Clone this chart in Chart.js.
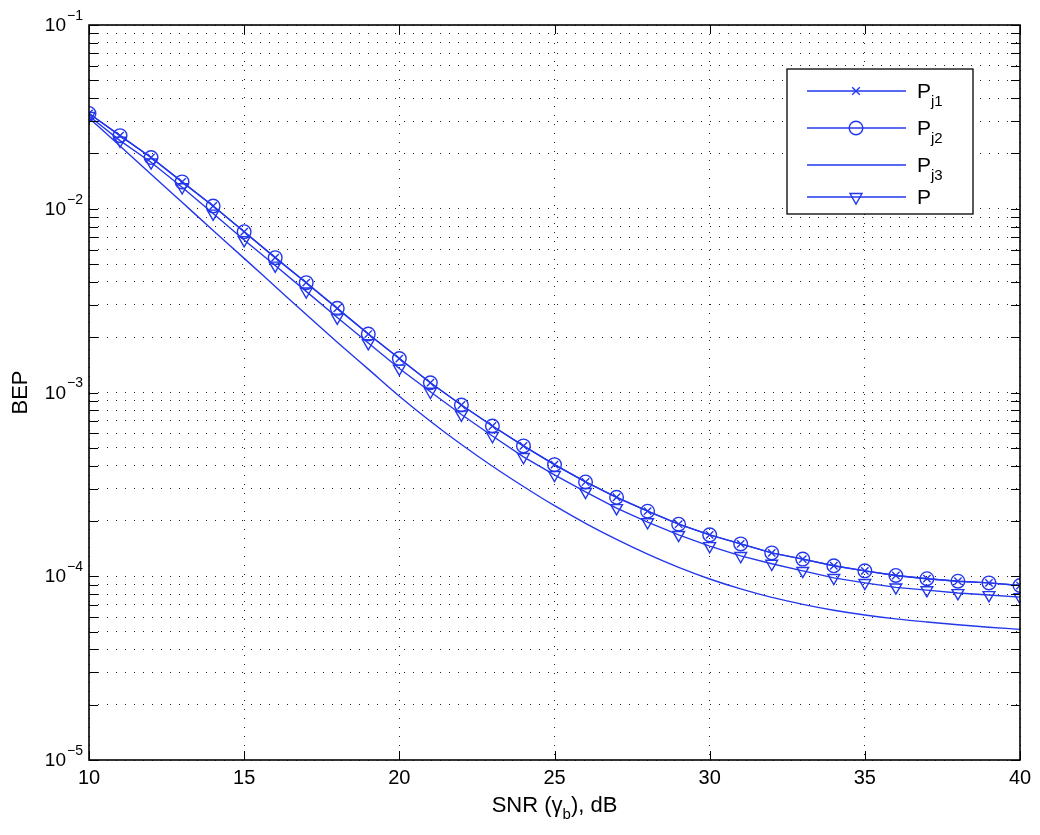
<!DOCTYPE html>
<html>
<head>
<meta charset="utf-8">
<script src="https://cdn.jsdelivr.net/npm/chart.js@4.4.1/dist/chart.umd.min.js"></script>
<style>
  html, body { margin: 0; padding: 0; background: #fff; }
  #wrap { width: 1040px; height: 835px; }
</style>
</head>
<body>
<div id="wrap"><canvas id="bep-chart" width="1040" height="835"></canvas></div>
<script>
// SNR in dB
const snr = [10, 11, 12, 13, 14, 15, 16, 17, 18, 19, 20, 21, 22, 23, 24, 25,
             26, 27, 28, 29, 30, 31, 32, 33, 34, 35, 36, 37, 38, 39, 40];

// values
const pj1 = [0.0330, 0.0250, 0.0190, 0.0140, 0.01035, 0.00750, 0.00542, 0.00396, 0.00287, 0.00208,
             0.00153, 0.00113, 0.000855, 0.000657, 0.000512, 0.000405, 0.000326, 0.000269, 0.000226, 0.000192,
             0.000168, 0.000150, 0.000134, 0.000124, 0.000114, 0.000107, 0.000101, 0.000097, 0.000094, 0.000092, 0.000089];
const pj2 = [0.0330, 0.0250, 0.0190, 0.0140, 0.01035, 0.00750, 0.00542, 0.00396, 0.00287, 0.00208,
             0.00153, 0.00113, 0.000855, 0.000657, 0.000512, 0.000405, 0.000326, 0.000269, 0.000226, 0.000192,
             0.000168, 0.000150, 0.000134, 0.000124, 0.000114, 0.000107, 0.000101, 0.000097, 0.000094, 0.000092, 0.000089];
const pj3 = [0.0312, 0.02193, 0.01542, 0.01084, 0.00762, 0.00537, 0.003776, 0.002655, 0.001879, 0.00134,
             0.000955, 0.000698, 0.000521, 0.000397, 0.000308, 0.000242, 0.000194, 0.0001585, 0.0001318, 0.0001117,
             0.0000966, 0.0000853, 0.0000767, 0.0000703, 0.0000653, 0.0000615, 0.0000586, 0.0000564, 0.0000545, 0.0000528, 0.0000514];
const pTotal = [0.0320, 0.0235, 0.0179, 0.0131, 0.00942, 0.00676, 0.00491, 0.00355, 0.00256, 0.00186,
                0.00135, 0.00101, 0.000759, 0.000580, 0.000446, 0.000356, 0.000288, 0.000235, 0.000197, 0.000168,
                0.000146, 0.000129, 0.000117, 0.000107, 0.000098, 0.000092, 0.000087, 0.000084, 0.000081, 0.000079, 0.000077];

// tick labels
const xTicks = [10, 15, 20, 25, 30, 35, 40];
const yDecades = [-5, -4, -3, -2, -1];

// legend names: main letter + subscript
const legendNames = [['P', 'j1'], ['P', 'j2'], ['P', 'j3'], ['P', '']];

const BLUE = 'rgb(35,55,235)';
const FONT = '"Liberation Sans", Arial, Helvetica, sans-serif';
const LW = 1.4;

function pts(ys) {
    return snr.map((x, i) => ({ x: x, y: ys[i] }));
}

// marker drawing for the legend rows
function drawMarker(ctx, style, x, y) {
    ctx.save();
    ctx.strokeStyle = BLUE;
    ctx.lineWidth = LW;
    ctx.beginPath();
    if (style === 'crossRot') {
        ctx.moveTo(x - 3.8, y - 3.8); ctx.lineTo(x + 3.8, y + 3.8);
        ctx.moveTo(x + 3.8, y - 3.8); ctx.lineTo(x - 3.8, y + 3.8);
    } else if (style === 'circle') {
        ctx.arc(x, y, 6.8, 0, Math.PI * 2);
    } else if (style === 'triangle') {
        ctx.moveTo(x - 6, y - 3.5); ctx.lineTo(x + 6, y - 3.5); ctx.lineTo(x, y + 7); ctx.closePath();
    }
    ctx.stroke();
    ctx.restore();
}

const decorPlugin = {
    id: 'decor',
    afterDraw(chart) {
        const ctx = chart.ctx;
        const a = chart.chartArea;
        const xs = chart.scales.x;
        const ys = chart.scales.y;
        ctx.save();

        // inner tick marks on all four sides
        ctx.strokeStyle = '#000';
        ctx.lineWidth = 1;
        ctx.beginPath();
        ys.ticks.forEach(t => {
            const py = Math.round(ys.getPixelForValue(t.value)) + 0.5;
            ctx.moveTo(a.left, py); ctx.lineTo(a.left + 9, py);
            ctx.moveTo(a.right, py); ctx.lineTo(a.right - 9, py);
        });
        xTicks.forEach(v => {
            const px = Math.round(xs.getPixelForValue(v)) + 0.5;
            ctx.moveTo(px, a.bottom); ctx.lineTo(px, a.bottom - 9);
            ctx.moveTo(px, a.top); ctx.lineTo(px, a.top + 9);
        });
        ctx.stroke();

        // frame
        ctx.lineWidth = 1.6;
        ctx.strokeRect(a.left, a.top, a.right - a.left, a.bottom - a.top);

        // x tick labels
        ctx.fillStyle = '#000';
        ctx.font = '20px ' + FONT;
        ctx.textAlign = 'center';
        ctx.textBaseline = 'middle';
        xTicks.forEach(v => {
            ctx.fillText(String(v), xs.getPixelForValue(v), a.bottom + 18);
        });

        // y tick labels: 10 with superscript exponent
        yDecades.forEach(e => {
            const py = ys.getPixelForValue(Math.pow(10, e));
            ctx.font = '19px ' + FONT;
            ctx.textAlign = 'right';
            ctx.textBaseline = 'middle';
            ctx.fillText('10', a.left - 23, py + 1);
            ctx.font = '14px ' + FONT;
            ctx.textAlign = 'left';
            ctx.fillText('\u2212' + Math.abs(e), a.left - 22, py - 9);
        });

        // axis titles
        ctx.textBaseline = 'alphabetic';
        ctx.fillStyle = '#000';
        const part1 = 'SNR (\u03b3', sub = 'b', part2 = '), dB';
        ctx.font = '22px ' + FONT;
        const w1 = ctx.measureText(part1).width;
        const w3 = ctx.measureText(part2).width;
        ctx.font = '15px ' + FONT;
        const w2 = ctx.measureText(sub).width;
        const total = w1 + w2 + w3;
        const tx = (a.left + a.right) / 2 - total / 2;
        const ty = 812;
        ctx.textAlign = 'left';
        ctx.font = '22px ' + FONT;
        ctx.fillText(part1, tx, ty);
        ctx.font = '15px ' + FONT;
        ctx.fillText(sub, tx + w1, ty + 7);
        ctx.font = '22px ' + FONT;
        ctx.fillText(part2, tx + w1 + w2, ty);

        ctx.save();
        ctx.translate(27, (a.top + a.bottom) / 2);
        ctx.rotate(-Math.PI / 2);
        ctx.textAlign = 'center';
        ctx.font = '22px ' + FONT;
        ctx.fillText('BEP', 0, 0);
        ctx.restore();

        // legend box
        const lx = 787, ly = 69, lw = 186, lh = 145;
        ctx.fillStyle = '#fff';
        ctx.fillRect(lx, ly, lw, lh);
        ctx.strokeStyle = '#000';
        ctx.lineWidth = 1.3;
        ctx.strokeRect(lx, ly, lw, lh);
        const rows = [91, 128, 165, 197];
        const styles = ['crossRot', 'circle', null, 'triangle'];
        rows.forEach((ry, i) => {
            ctx.strokeStyle = BLUE;
            ctx.lineWidth = LW;
            ctx.beginPath();
            ctx.moveTo(807, ry); ctx.lineTo(906, ry);
            ctx.stroke();
            if (styles[i]) drawMarker(ctx, styles[i], 856, ry);
            ctx.fillStyle = '#000';
            ctx.textAlign = 'left';
            ctx.textBaseline = 'alphabetic';
            ctx.font = '21px ' + FONT;
            ctx.fillText(legendNames[i][0], 917, ry + 7);
            if (legendNames[i][1]) {
                ctx.font = '15px ' + FONT;
                ctx.fillText(legendNames[i][1], 931, ry + 15);
            }
        });

        ctx.restore();
    }
};

const ctx = document.getElementById('bep-chart').getContext('2d');
const gridDots = { display: true, color: '#222', lineWidth: 1, drawTicks: false };

new Chart(ctx, {
    type: 'line',
    data: {
        datasets: [
            {
                label: 'Pj1', data: pts(pj1),
                borderColor: BLUE, borderWidth: LW, pointStyle: 'crossRot',
                pointRadius: 5.2, pointBorderWidth: LW, pointBorderColor: BLUE,
                pointBackgroundColor: 'rgba(0,0,0,0)', fill: false, tension: 0
            },
            {
                label: 'Pj2', data: pts(pj2),
                borderColor: BLUE, borderWidth: LW, pointStyle: 'circle',
                pointRadius: 6.8, pointBorderWidth: LW, pointBorderColor: BLUE,
                pointBackgroundColor: 'rgba(0,0,0,0)', fill: false, tension: 0
            },
            {
                label: 'Pj3', data: pts(pj3),
                borderColor: BLUE, borderWidth: LW, pointRadius: 0,
                fill: false, cubicInterpolationMode: 'monotone'
            },
            {
                label: 'P', data: pts(pTotal),
                borderColor: BLUE, borderWidth: LW, pointStyle: 'triangle', pointRotation: 180,
                pointRadius: 6.8, pointBorderWidth: LW, pointBorderColor: BLUE,
                pointBackgroundColor: 'rgba(0,0,0,0)', fill: false, tension: 0
            }
        ]
    },
    options: {
        responsive: false,
        animation: false,
        layout: { padding: { left: 89, top: 25, right: 20, bottom: 75 } },
        plugins: {
            legend: { display: false },
            tooltip: { enabled: false }
        },
        scales: {
            x: {
                type: 'linear', min: 10, max: 40,
                ticks: { display: false, stepSize: 5 },
                grid: gridDots,
                border: { display: false, dash: [1, 8] }
            },
            y: {
                type: 'logarithmic', min: 1e-5, max: 1e-1,
                ticks: { display: false },
                grid: gridDots,
                border: { display: false, dash: [1, 8] },
                afterBuildTicks: function (scale) {
                    // 1..9 in every decade, as in the picture
                    const t = [];
                    yDecades.forEach(e => {
                        for (let m = 1; m <= 9; m++) t.push({ value: m * Math.pow(10, e) });
                    });
                    t.push({ value: 1e-1 });
                    scale.ticks = t;
                }
            }
        }
    },
    plugins: [decorPlugin]
});
</script>
</body>
</html>
